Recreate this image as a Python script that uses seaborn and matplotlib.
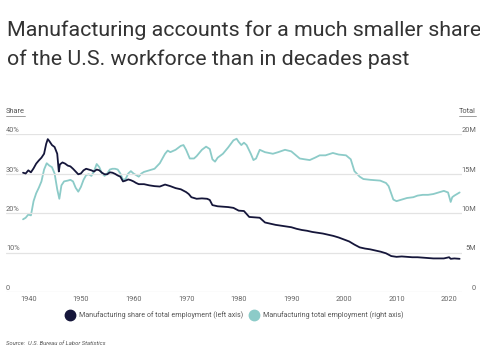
import matplotlib
matplotlib.use("Agg")
import matplotlib.pyplot as plt
import seaborn as sns
import pandas as pd
from matplotlib.lines import Line2D

sns.set_theme(style="white")
plt.rcParams['font.family'] = ['Roboto', 'DejaVu Sans']

# ---- data ----
share_years = [1939.0, 1939.5, 1940.0, 1940.5, 1941.0, 1941.5, 1942.0, 1942.5, 1943.0, 1943.4,
               1943.7, 1944.0, 1944.5, 1945.0, 1945.5, 1945.8, 1946.0, 1946.5, 1947.0, 1947.5,
               1948.0, 1948.5, 1949.0, 1949.5, 1950.0, 1950.5, 1951.0, 1951.5, 1952.0, 1952.5,
               1953.0, 1953.5, 1954.0, 1954.5, 1955.0, 1955.5, 1956.0, 1956.5, 1957.0, 1957.5,
               1958.0, 1958.5, 1959.0, 1959.5, 1960.0, 1960.5, 1961.0, 1962.0, 1963.0, 1964.0,
               1965.0, 1966.0, 1967.0, 1968.0, 1969.0, 1970.0, 1970.5, 1971.0, 1972.0, 1973.0,
               1974.0, 1974.5, 1975.0, 1976.0, 1977.0, 1978.0, 1979.0, 1980.0, 1981.0, 1982.0,
               1983.0, 1984.0, 1985.0, 1986.0, 1987.0, 1988.0, 1989.0, 1990.0, 1991.0, 1992.0,
               1993.0, 1994.0, 1995.0, 1996.0, 1997.0, 1998.0, 1999.0, 2000.0, 2001.0, 2002.0,
               2003.0, 2004.0, 2005.0, 2006.0, 2007.0, 2008.0, 2009.0, 2010.0, 2011.0, 2012.0,
               2013.0, 2014.0, 2015.0, 2016.0, 2017.0, 2018.0, 2019.0, 2020.0, 2020.3, 2021.0,
               2022.0]
share_pct = [30.2, 30.0, 30.8, 30.3, 31.3, 32.5, 33.3, 34.0, 35.0, 37.5,
             38.7, 38.2, 37.2, 36.7, 35.0, 30.5, 32.3, 32.8, 32.5, 32.0,
             31.8, 31.2, 30.5, 29.8, 30.0, 30.8, 31.2, 31.0, 30.8, 30.5,
             31.0, 30.8, 30.2, 29.8, 29.8, 30.3, 30.2, 29.9, 29.5, 29.2,
             28.0, 28.2, 28.5, 28.3, 28.0, 27.6, 27.3, 27.3, 27.0, 26.8,
             26.7, 27.2, 26.8, 26.3, 26.0, 25.3, 24.8, 24.0, 23.6, 23.7,
             23.6, 23.3, 22.0, 21.7, 21.6, 21.5, 21.3, 20.6, 20.5, 19.0,
             18.9, 18.8, 17.6, 17.3, 17.0, 16.8, 16.6, 16.4, 16.0, 15.7,
             15.5, 15.2, 15.0, 14.8, 14.5, 14.2, 13.8, 13.3, 12.8, 12.0,
             11.3, 11.0, 10.8, 10.5, 10.2, 9.8, 9.1, 8.9, 9.0, 8.9,
             8.8, 8.8, 8.7, 8.6, 8.5, 8.5, 8.5, 8.8, 8.4, 8.5,
             8.4]

total_years = [1939.0, 1939.5, 1940.0, 1940.5, 1941.0, 1941.5, 1942.0, 1942.5, 1943.0, 1943.5,
               1944.0, 1944.5, 1945.0, 1945.5, 1945.9, 1946.3, 1946.8, 1947.5, 1948.0, 1948.5,
               1949.0, 1949.5, 1950.0, 1950.5, 1951.0, 1951.5, 1952.0, 1952.5, 1953.0, 1953.5,
               1954.0, 1954.5, 1955.0, 1955.5, 1956.0, 1956.5, 1957.0, 1957.5, 1958.0, 1958.5,
               1959.0, 1959.5, 1960.0, 1960.5, 1961.0, 1961.5, 1962.0, 1963.0, 1964.0, 1965.0,
               1966.0, 1966.5, 1967.0, 1968.0, 1969.0, 1969.5, 1970.0, 1970.7, 1971.5, 1972.0,
               1973.0, 1973.8, 1974.5, 1975.0, 1975.5, 1976.0, 1977.0, 1978.0, 1979.0, 1979.6,
               1980.0, 1980.5, 1981.0, 1981.5, 1982.3, 1982.8, 1983.3, 1984.0, 1985.0, 1986.5,
               1987.5, 1988.8, 1990.0, 1991.6, 1992.5, 1993.5, 1994.5, 1995.4, 1996.5, 1997.9,
               1999.0, 2000.4, 2001.3, 2002.0, 2003.0, 2003.7, 2005.0, 2006.9, 2008.0, 2008.5,
               2009.4, 2010.0, 2011.0, 2012.0, 2013.2, 2014.0, 2015.0, 2016.0, 2017.0, 2018.0,
               2019.0, 2019.8, 2020.3, 2020.6, 2021.0, 2022.0]
total_millions = [9.2, 9.4, 9.8, 9.7, 11.5, 12.5, 13.2, 14.0, 15.5, 16.3,
                  16.0, 15.8, 15.0, 13.0, 11.8, 13.5, 14.0, 14.1, 14.2, 14.0,
                  13.2, 12.7, 13.3, 14.2, 14.8, 14.9, 14.7, 15.3, 16.2, 15.8,
                  15.0, 14.7, 15.0, 15.5, 15.6, 15.6, 15.5, 15.0, 14.2, 14.3,
                  15.0, 15.3, 15.0, 14.8, 14.6, 15.0, 15.2, 15.4, 15.6, 16.3,
                  17.5, 17.9, 17.7, 18.0, 18.5, 18.6, 18.0, 16.9, 16.9, 17.2,
                  18.0, 18.4, 18.1, 16.8, 16.5, 17.0, 17.5, 18.3, 19.2, 19.4,
                  19.0, 18.6, 18.9, 18.6, 17.5, 16.7, 16.9, 18.0, 17.7, 17.5,
                  17.7, 18.0, 17.8, 16.9, 16.8, 16.7, 17.0, 17.3, 17.3, 17.6,
                  17.4, 17.3, 16.8, 15.3, 14.6, 14.3, 14.2, 14.1, 13.8, 13.4,
                  11.7, 11.5, 11.7, 11.9, 12.0, 12.2, 12.3, 12.3, 12.4, 12.6,
                  12.8, 12.6, 11.4, 12.0, 12.2, 12.6]

left_ticks = [0, 10, 20, 30, 40]
left_labels = ["0", "10%", "20%", "30%", "40%"]
right_ticks = [0, 5, 10, 15, 20]
right_labels = ["0", "5M", "10M", "15M", "20M"]
year_ticks = [1940, 1950, 1960, 1970, 1980, 1990, 2000, 2010, 2020]

series_names = ["Manufacturing share of total employment (left axis)",
                "Manufacturing total employment (right axis)"]

navy = "#15163a"
teal = "#8ccbc8"
tick_col = "#666666"

df_share = pd.DataFrame({"year": share_years, "value": share_pct})
df_total = pd.DataFrame({"year": total_years, "value": total_millions})

W, H = 480, 350
fig = plt.figure(figsize=(W / 100, H / 100), dpi=100)
ax_left, ax_right_px, ax_top, ax_bot = 6, 462, 134, 292
ax = fig.add_axes([ax_left / W, 1 - ax_bot / H, (ax_right_px - ax_left) / W, (ax_bot - ax_top) / H])
ax2 = ax.twinx()

x0 = 1940 - (28.3 - ax_left) / 5.26
x1 = 1940 + (ax_right_px - 28.3) / 5.26
ax.set_xlim(x0, x1)
ax.set_ylim(0, 40)
ax2.set_ylim(0, 20)

for t in left_ticks:
    ax.axhline(t, color="#e3e3e3", lw=0.9, zorder=0)

sns.lineplot(data=df_total, x="year", y="value", ax=ax2, color=teal, lw=1.3, estimator=None, sort=False)
sns.lineplot(data=df_share, x="year", y="value", ax=ax, color=navy, lw=1.3, estimator=None, sort=False)
ax.set_zorder(ax2.get_zorder() + 1)
ax.patch.set_visible(False)

for a in (ax, ax2):
    a.set_xlabel("")
    a.set_ylabel("")
    a.set_yticks([])
    for s in a.spines.values():
        s.set_visible(False)
ax2.set_xticks([])

ax.set_xticks(year_ticks)
ax.set_xticklabels([str(y) for y in year_ticks], fontsize=5.3, color=tick_col)
ax.tick_params(axis="x", length=0, pad=3)

for t, lab in zip(left_ticks, left_labels):
    ax.text(0.0, t, lab, transform=ax.get_yaxis_transform(), ha="left", va="bottom",
            fontsize=5.3, color=tick_col)
for t, lab in zip(right_ticks, right_labels):
    ax2.text(476 / W, t, lab, transform=matplotlib.transforms.blended_transform_factory(fig.transFigure, ax2.transData),
             ha="right", va="bottom", fontsize=5.3, color=tick_col)

# title
fig.text(7 / W, 1 - 36 / H, "Manufacturing accounts for a much smaller share",
         fontsize=15.4, color="#333333", ha="left", va="baseline")
fig.text(7 / W, 1 - 65 / H, "of the U.S. workforce than in decades past",
         fontsize=15.4, color="#333333", ha="left", va="baseline")

# axis titles
t1 = fig.text(6 / W, 1 - 113 / H, "Share", fontsize=5.3, color="#555555", ha="left", va="baseline")
t2 = fig.text(476 / W, 1 - 113 / H, "Total", fontsize=5.3, color="#555555", ha="right", va="baseline")
fig.canvas.draw()
for t in (t1, t2):
    bb = t.get_window_extent()
    y = bb.y0 - 1.2
    fig.add_artist(Line2D([bb.x0 / W, bb.x1 / W], [y / H, y / H], color="#777777", lw=0.5,
                          transform=fig.transFigure))

# legend
handles = [Line2D([], [], marker="o", linestyle="", markersize=7.5, markerfacecolor=navy, markeredgecolor=navy),
           Line2D([], [], marker="o", linestyle="", markersize=7.5, markerfacecolor=teal, markeredgecolor=teal)]
leg = fig.legend(handles, series_names, loc="center", bbox_to_anchor=(0.489, 1 - 315 / H), ncol=2,
                 frameon=False, fontsize=5.1, handletextpad=0.6, columnspacing=1.0, handlelength=1.2)
for txt in leg.get_texts():
    txt.set_color("#555555")

fig.text(6 / W, 1 - 345 / H, "Source:  U.S. Bureau of Labor Statistics", fontsize=4.2,
         color="#555555", style="italic", ha="left", va="baseline")

fig.savefig("out.png", dpi=100)
